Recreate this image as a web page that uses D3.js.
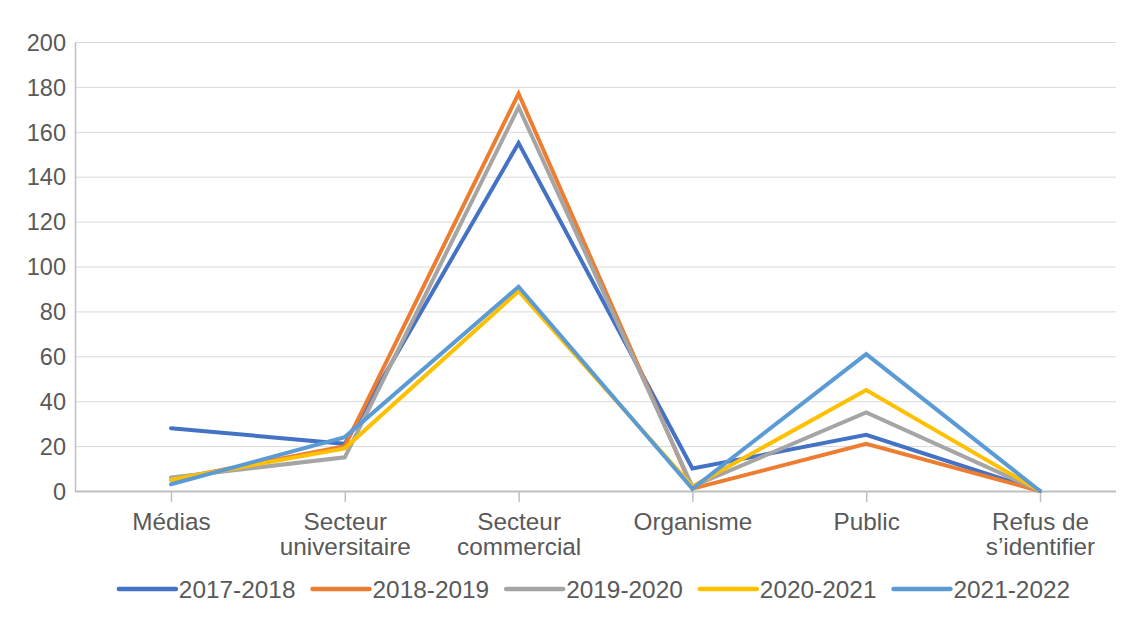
<!DOCTYPE html>
<html><head><meta charset="utf-8">
<script src="https://cdn.jsdelivr.net/npm/d3@7"></script>
<style>body{margin:0;background:#fff;} text{font-family:"Liberation Sans",Arial,sans-serif;fill:#595959;}</style>
</head><body>
<svg id="chart" width="1140" height="622"></svg>
<script>
const categories = [["Médias"],["Secteur","universitaire"],["Secteur","commercial"],["Organisme"],["Public"],["Refus de","s’identifier"]];
const seriesNames = ["2017-2018","2018-2019","2019-2020","2020-2021","2021-2022"];
const s2017 = [28, 21, 155, 10, 25, 0];
const s2018 = [5, 20, 177, 1, 21, 0];
const s2019 = [6, 15, 171, 2, 35, 0];
const s2020 = [5, 19, 89, 2, 45, 0];
const s2021 = [3, 24, 91, 1, 61, 0];
const yTicks = [0,20,40,60,80,100,120,140,160,180,200];
const colors = ["#4472C4","#ED7D31","#A5A5A5","#FFC000","#5B9BD5"];
const allSeries = [s2017,s2018,s2019,s2020,s2021];

const svg = d3.select("#chart");
const mLeft = 75, mRight = 1116, mTop = 42, mBottom = 491;
const catKeys = categories.map((c,i)=>i);
const x = d3.scalePoint().domain(catKeys).range([171, 1040]);
const y = d3.scaleLinear().domain([0,200]).range([mBottom, mTop]);

// gridlines
svg.append("g").selectAll("line").data(yTicks.filter(d=>d>0)).join("line")
  .attr("x1", mLeft).attr("x2", mRight)
  .attr("y1", d=>y(d)+0.5).attr("y2", d=>y(d)+0.5)
  .attr("stroke", "#d9d9d9").attr("stroke-width", 1);

// y axis
const yAxis = svg.append("g").attr("transform", `translate(${mLeft},0)`)
  .call(d3.axisLeft(y).tickValues(yTicks).tickSize(0).tickPadding(9));
yAxis.select(".domain").attr("stroke","#bfbfbf").attr("stroke-width",1.5);
yAxis.selectAll("text").attr("font-size", 23.5).style("font-family","Liberation Sans, Arial, sans-serif").attr("fill","#595959").attr("dy","0.35em");

// x axis
const xAxis = svg.append("g").attr("transform", `translate(0,${mBottom})`)
  .call(d3.axisBottom(x).tickSize(11).tickFormat(""));
xAxis.select(".domain").attr("d", `M${mLeft},0.5H${mRight}`).attr("stroke","#bfbfbf").attr("stroke-width",2);
xAxis.selectAll(".tick line").attr("stroke","#bfbfbf").attr("stroke-width",1.5);
xAxis.selectAll(".tick").each(function(d){
  const t = d3.select(this).append("text").attr("text-anchor","middle").attr("font-size",24.3).attr("fill","#595959");
  categories[d].forEach((ln,j)=>{
    t.append("tspan").attr("x",0).attr("y", 39 + j*25).text(ln);
  });
});

// lines
const line = d3.line().x((d,i)=>x(i)).y(d=>y(d));
allSeries.forEach((s,k)=>{
  svg.append("path").datum(s).attr("d", line)
    .attr("fill","none").attr("stroke", colors[k]).attr("stroke-width",4)
    .attr("stroke-linejoin","miter").attr("stroke-linecap","round");
});

// legend
const lg = svg.append("g");
let cx = 0;
seriesNames.forEach((n,k)=>{
  const g = lg.append("g");
  g.append("line").attr("x1",0).attr("x2",57).attr("y1",0).attr("y2",0)
    .attr("stroke",colors[k]).attr("stroke-width",4.5).attr("stroke-linecap","round");
  const t = g.append("text").attr("x",60).attr("y",0).attr("dy","0.35em").attr("font-size",24.4).attr("fill","#595959").text(n);
  const w = 60 + t.node().getComputedTextLength();
  g.attr("transform", `translate(${cx},0)`);
  cx += w + 17;
});
const total = cx - 17;
lg.attr("transform", `translate(${594.5 - total/2},${589})`);
</script>
</body></html>
